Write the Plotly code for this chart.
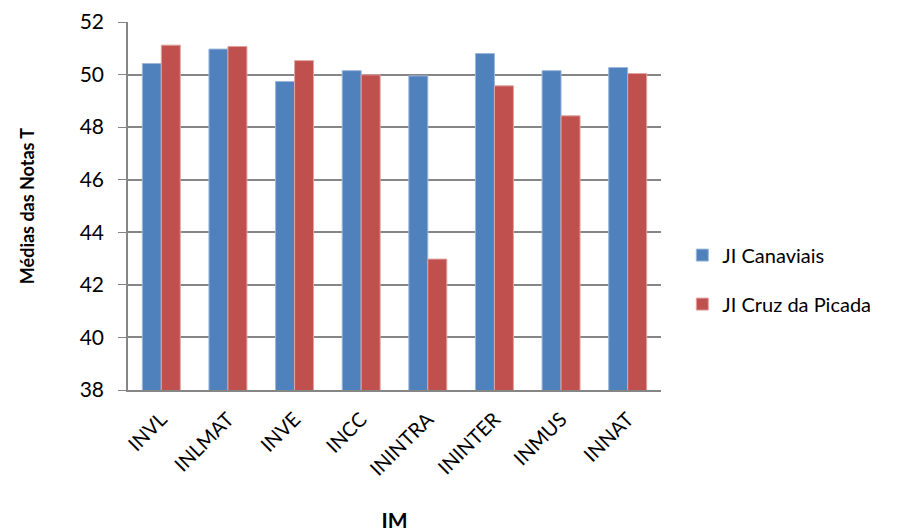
import plotly.graph_objects as go

categories = ["INVL", "INLMAT", "INVE", "INCC", "ININTRA", "ININTER", "INMUS", "INNAT"]
canaviais = [50.42, 50.97, 49.74, 50.15, 49.95, 50.80, 50.15, 50.27]
cruz_picada = [51.12, 51.07, 50.53, 49.99, 42.98, 49.57, 48.43, 50.04]
y_ticks = [38, 40, 42, 44, 46, 48, 50, 52]

FONT = "Lato, Calibri, Carlito, sans-serif"

fig = go.Figure()
fig.add_trace(go.Bar(
    x=categories, y=canaviais, name="JI Canaviais", legendgroup="a",
    marker=dict(color="#4F81BD", line=dict(color="#9DB7DB", width=1)),
))
fig.add_trace(go.Bar(
    x=categories, y=cruz_picada, name="JI Cruz da Picada", legendgroup="b",
    marker=dict(color="#C0504D", line=dict(color="#DFA3A1", width=1)),
))

fig.update_layout(
    width=906, height=532,
    margin=dict(l=128, r=245, t=22, b=142),
    paper_bgcolor="white", plot_bgcolor="white",
    barmode="group", bargap=0.43, bargroupgap=0,
    font=dict(family=FONT, size=20, color="black"),
    legend=dict(
        x=1.04, y=0.30, xanchor="left", yanchor="middle",
        font=dict(size=20), tracegroupgap=20, itemwidth=30,
    ),
    xaxis=dict(
        title=dict(text="<b>IM</b>", font=dict(size=21), standoff=44),
        tickangle=-45, tickfont=dict(size=20),
        showline=True, linecolor="#868686", linewidth=1.5,
        ticks="outside", ticklen=8, tickcolor="rgba(0,0,0,0)",
        showgrid=False, automargin=False,
    ),
    yaxis=dict(
        title=dict(text="<b>Médias das Notas T</b>", font=dict(size=18), standoff=40),
        range=[38, 52], tickvals=y_ticks, tickfont=dict(size=21),
        showline=True, linecolor="#868686", linewidth=1.5,
        ticks="outside", ticklen=8, tickcolor="#868686",
        ticklabelstandoff=10,
        showgrid=True, gridcolor="#868686", gridwidth=1.5,
        zeroline=False, automargin=False,
    ),
)

fig.write_html("out.html")
